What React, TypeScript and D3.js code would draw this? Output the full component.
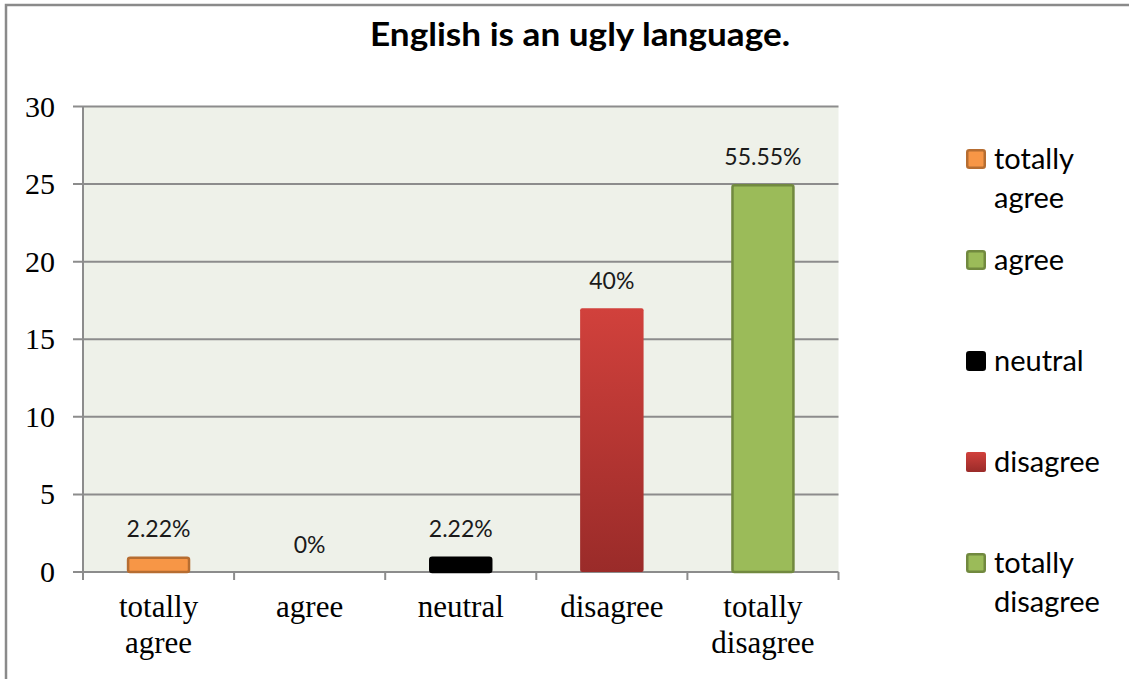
import React, { useEffect, useRef } from "react";
import * as d3 from "d3";

const categories = ["totally agree", "agree", "neutral", "disagree", "totally disagree"];
const values = [1, 0, 1, 17, 25];
const percentLabels = ["2.22%", "0%", "2.22%", "40%", "55.55%"];
const yTicks = [0, 5, 10, 15, 20, 25, 30];
const legendLabels = ["totally agree", "agree", "neutral", "disagree", "totally disagree"];
const title = "English is an ugly language.";

const fills = ["#f79646", "#9bbb59", "#000000", "url(#redGrad)", "#9bbb59"];
const strokes = ["#b66d31", "#71893f", "#000000", "none", "#71893f"];

const W = 1129;
const H = 679;

export default function App() {
  const ref = useRef<SVGSVGElement>(null);

  useEffect(() => {
    document.body.style.margin = "0";
    const svg = d3.select(ref.current);
    svg.selectAll("*").remove();

    const defs = svg.append("defs");
    const g = defs.append("linearGradient").attr("id", "redGrad").attr("x1", 0).attr("x2", 0).attr("y1", 0).attr("y2", 1);
    g.append("stop").attr("offset", "0%").attr("stop-color", "#d1413c");
    g.append("stop").attr("offset", "100%").attr("stop-color", "#9a2b29");

    svg.append("rect").attr("x", 0).attr("y", 0).attr("width", W).attr("height", H).attr("fill", "#ffffff");

    // outer frame
    svg.append("path").attr("d", `M6,${H + 2} L6,5 L${W + 2},5`).attr("fill", "none").attr("stroke", "#8a8a8a").attr("stroke-width", 2.5);

    const left = 83, right = 838.5, top = 106.5, bottom = 572;
    const x = d3.scaleBand<string>().domain(categories).range([left, right]).paddingInner(0.58).paddingOuter(0.29);
    const y = d3.scaleLinear().domain([0, 30]).range([bottom, top]);
    const step = x.step();

    svg.append("rect").attr("x", left).attr("y", top).attr("width", right - left).attr("height", bottom - top).attr("fill", "#eef1e9");

    // gridlines
    svg.selectAll(".grid").data(yTicks).enter().append("line")
      .attr("x1", left - 10).attr("x2", right).attr("y1", d => y(d)).attr("y2", d => y(d))
      .attr("stroke", "#8c8c8c").attr("stroke-width", 2);

    // y axis line
    svg.append("line").attr("x1", left).attr("x2", left).attr("y1", top).attr("y2", bottom + 8).attr("stroke", "#8c8c8c").attr("stroke-width", 2);

    // x ticks
    const xt = d3.range(categories.length + 1).map(i => left + i * step);
    svg.selectAll(".xt").data(xt).enter().append("line")
      .attr("x1", d => d).attr("x2", d => d).attr("y1", bottom).attr("y2", bottom + 8)
      .attr("stroke", "#8c8c8c").attr("stroke-width", 2);

    // y tick labels
    svg.selectAll(".yl").data(yTicks).enter().append("text")
      .attr("x", 55).attr("y", d => y(d) + 10)
      .attr("text-anchor", "end")
      .attr("font-family", "'Liberation Serif', 'Times New Roman', serif")
      .attr("font-size", 30).attr("fill", "#000")
      .text(d => d);

    // x labels
    categories.forEach(c => {
      const words = c.split(" ");
      const t = svg.append("text")
        .attr("text-anchor", "middle")
        .attr("font-family", "'Liberation Serif', 'Times New Roman', serif")
        .attr("font-size", 31).attr("fill", "#000");
      words.forEach((w, i) => {
        t.append("tspan").attr("x", (x(c) as number) + x.bandwidth() / 2).attr("y", bottom + 45 + i * 36).text(w);
      });
    });

    // bars
    categories.forEach((c, i) => {
      if (values[i] <= 0) return;
      const sw = strokes[i] === "none" ? 0 : 2.5;
      svg.append("rect")
        .attr("x", (x(c) as number) + sw / 2)
        .attr("y", y(values[i]) + sw / 2)
        .attr("width", x.bandwidth() - sw)
        .attr("height", y(0) - y(values[i]) - sw / 2)
        .attr("rx", 2)
        .attr("fill", fills[i])
        .attr("stroke", strokes[i])
        .attr("stroke-width", sw);
    });

    // data labels
    categories.forEach((c, i) => {
      svg.append("text")
        .attr("x", (x(c) as number) + x.bandwidth() / 2)
        .attr("y", y(values[i]) - 19)
        .attr("text-anchor", "middle")
        .attr("font-family", "Lato, 'Open Sans', sans-serif")
        .attr("font-size", 23).attr("fill", "#1a1a1a")
        .text(percentLabels[i]);
    });

    // title
    svg.append("text")
      .attr("x", 370).attr("y", 46)
      .attr("font-family", "Lato, 'Open Sans', sans-serif")
      .attr("font-weight", "bold")
      .attr("font-size", 32).attr("fill", "#000")
      .attr("textLength", 420).attr("lengthAdjust", "spacingAndGlyphs")
      .text(title);

    // legend
    const legendY = d3.scalePoint<string>().domain(legendLabels).range([159, 563]);
    legendLabels.forEach((l, i) => {
      const cy = legendY(l) as number;
      const sw = strokes[i] === "none" ? 0 : 2.5;
      svg.append("rect")
        .attr("x", 966 + sw / 2).attr("y", cy - 10 + sw / 2)
        .attr("width", 20 - sw).attr("height", 20 - sw)
        .attr("rx", 2)
        .attr("fill", fills[i]).attr("stroke", strokes[i]).attr("stroke-width", sw);
      const words = l.split(" ");
      const t = svg.append("text")
        .attr("font-family", "Lato, 'Open Sans', sans-serif")
        .attr("font-size", 29).attr("fill", "#000");
      words.forEach((w, j) => {
        t.append("tspan").attr("x", 994).attr("y", cy + 10 + j * 38.5).text(w);
      });
    });
  }, []);

  return (
    <svg ref={ref} width={W} height={H} style={{ position: "absolute", left: 0, top: 0, display: "block" }} />
  );
}
